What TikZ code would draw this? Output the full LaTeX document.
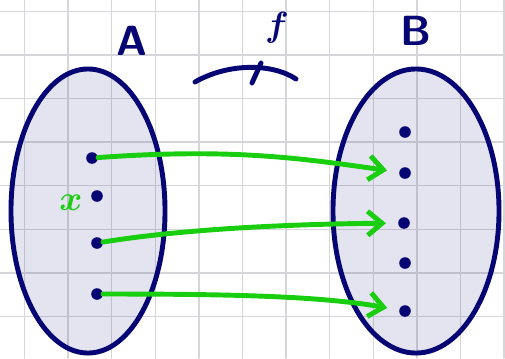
\documentclass[tikz,border=0pt]{standalone}
\usepackage{amsmath,amssymb}
\usepackage{xcolor}
\usepackage{tikz}
\usetikzlibrary{arrows.meta,shapes.geometric}
\definecolor{encre}{RGB}{5,5,115}
\definecolor{vert}{RGB}{25,205,15}
\definecolor{grille}{RGB}{214,214,218}

\begin{document}
\begin{tikzpicture}[x=0.025cm,y=-0.025cm,line cap=round,
    ensemble/.style={ellipse,draw=encre,line width=3.5pt,fill=encre,
                     fill opacity=0.11,inner sep=0pt},
    elt/.style={circle,fill=encre,inner sep=0pt,minimum size=0.29cm},
    fleche/.style={vert,line width=3.5pt,
                   -{Straight Barb[length=0.36cm,width=0.6cm]}},
    nom/.style={encre,font=\sffamily\bfseries\fontsize{30}{30}\selectfont}]
    % unite : 1 = 1 pixel de l'image, y vers le bas
    \useasboundingbox (0,0) rectangle (505,358);
    \foreach \i in {0,...,11}{
      \draw[grille,line width=1.1pt] ({24.5+43.6*\i},0)--({24.5+43.6*\i},358);}
    \foreach \j in {0,...,7}{
      \draw[grille,line width=1.1pt] (0,{11.3+43.6*\j})--(505,{11.3+43.6*\j});}
    % les deux ensembles
    \node[ensemble,minimum width=3.85cm,minimum height=7.1cm] (setA) at (88,211) {};
    \node[ensemble,minimum width=4.15cm,minimum height=7.1cm] (setB) at (416,211) {};
    \node[nom] (nomA) at (132,41) {A};
    \node[nom] (nomB) at (416,31) {B};
    \node[encre,font=\boldmath\fontsize{30}{30}\selectfont] (nomf) at (277,28) {$f$};
    \node[vert,font=\boldmath\fontsize{34}{34}\selectfont] (nomx) at (71,203) {$x$};
    % fleche de f
    \draw[encre,line width=3.5pt] (195,82) .. controls (228,63) and (272,63) .. (296,79);
    \draw[encre,line width=3.5pt] (252,83)--(261,63);
    % elements
    \foreach \n/\p in {a1/{(92,158)},a2/{(97,196)},a3/{(97,243)},a4/{(97,294)},
                       b1/{(405,132)},b2/{(405,173)},b3/{(404,223)},b4/{(405,263)},b5/{(405,311)}}{
      \node[elt] (\n) at \p {};}
    % correspondances
    \draw[fleche,shorten >=0.3cm] (a1) .. controls (230,148) and (300,158) .. (b2);
    \draw[fleche,shorten >=0.3cm] (a3) .. controls (190,228) and (300,224) .. (b3);
    \draw[fleche,shorten >=0.3cm] (a4) .. controls (230,294) and (320,296) .. (b5);
\end{tikzpicture}
\end{document}
